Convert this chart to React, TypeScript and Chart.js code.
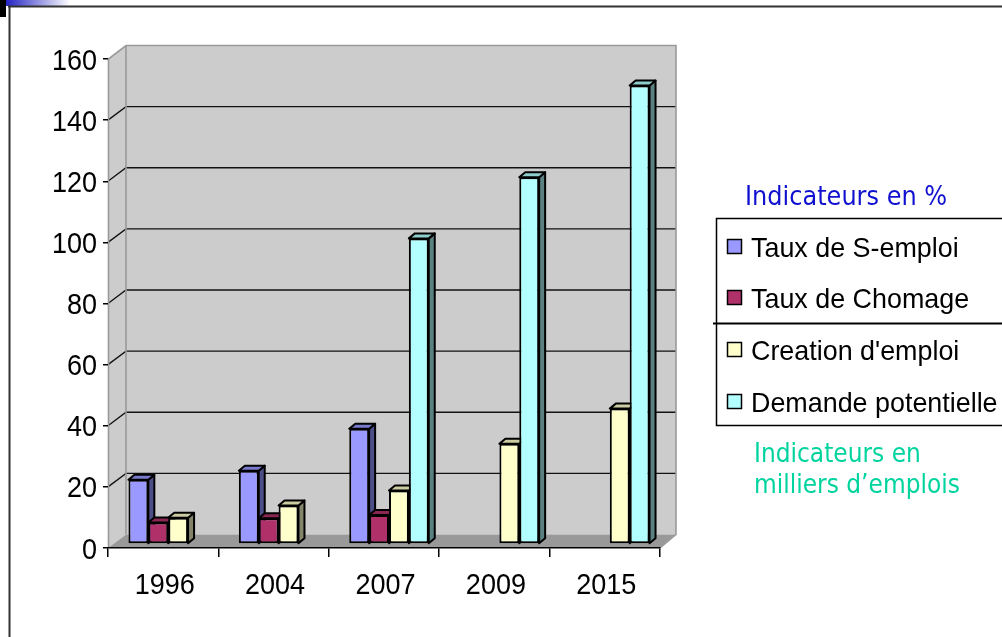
import React, { useEffect, useRef } from 'react';
import { Chart, registerables } from 'chart.js';

Chart.register(...registerables);

const categories = ['1996', '2004', '2007', '2009', '2015'];
const tauxSEmploi = [21, 24, 37.7, null, null];
const tauxChomage = [7, 8.4, 9.5, null, null];
const creationEmploi = [8.6, 12.6, 17.5, 32.8, 44.3];
const demandePotentielle = [null, null, 100, 120, 150];
const seriesLabels = ['Taux de S-emploi', 'Taux de Chomage', "Creation d'emploi", 'Demande potentielle'];
const yMin = 0;
const yMax = 160;
const yStep = 20;
const titlePct = 'Indicateurs en %';
const noteLines = ['Indicateurs en', 'milliers d\u2019emplois'];

const FRONT = ['#9999ff', '#b0306a', '#ffffcc', '#b3ffff'];
const SIDE = ['#4d4d88', '#5c1a38', '#84846a', '#5a8080'];
const TOP = ['#7a7acc', '#8a2652', '#cccca3', '#8fcccc'];

const FONT = '"Liberation Sans", Arial, sans-serif';
const WDX = 18, WDXR = 16, WDY = -13.5; // wall depth
const OX = 5, OY = -4; // bar plane offset
const BDX = 6, BDY = -5; // bar depth

function stretchedText(ctx: any, text: string, x: number, y: number, font: string, sx: number, align: string, color: string) {
  ctx.save();
  ctx.translate(x, y);
  ctx.scale(sx, 1);
  ctx.font = font;
  ctx.fillStyle = color;
  ctx.textAlign = align;
  ctx.textBaseline = 'alphabetic';
  ctx.fillText(text, 0, 0);
  ctx.restore();
}

const threeD = {
  id: 'threeD',
  beforeDraw(chart: any) {
    const ctx = chart.ctx;
    const { left, right, top, bottom } = chart.chartArea;
    const ys = chart.scales.y;
    ctx.save();
    ctx.fillStyle = '#ffffff';
    ctx.fillRect(0, 0, chart.width, chart.height);
    // frame decoration
    ctx.fillStyle = '#000';
    ctx.fillRect(0, 0, 6, 17);
    const g = ctx.createLinearGradient(6, 0, 70, 0);
    g.addColorStop(0, '#2424c4');
    g.addColorStop(1, '#ffffff');
    ctx.fillStyle = g;
    ctx.fillRect(6, 0, 64, 6);
    ctx.strokeStyle = '#333';
    ctx.lineWidth = 2;
    ctx.beginPath();
    ctx.moveTo(8, 6.5);
    ctx.lineTo(chart.width, 6.5);
    ctx.moveTo(9.5, 6);
    ctx.lineTo(9.5, chart.height);
    ctx.stroke();

    const bl = left + WDX, br = right + WDXR, bt = top + WDY, bb = bottom + WDY;
    ctx.fillStyle = '#cccccc';
    ctx.fillRect(bl, bt, br - bl, bb - bt);
    ctx.beginPath();
    ctx.moveTo(left, top);
    ctx.lineTo(bl, bt);
    ctx.lineTo(bl, bb);
    ctx.lineTo(left, bottom);
    ctx.closePath();
    ctx.fill();
    ctx.fillStyle = '#999999';
    ctx.beginPath();
    ctx.moveTo(left, bottom);
    ctx.lineTo(bl, bb);
    ctx.lineTo(br, bb);
    ctx.lineTo(right, bottom);
    ctx.closePath();
    ctx.fill();
    ctx.strokeStyle = '#111';
    ctx.lineWidth = 1.3;
    ys.ticks.forEach((t: any) => {
      if (t.value <= yMin || t.value >= yMax) return;
      const py = ys.getPixelForValue(t.value);
      ctx.beginPath();
      ctx.moveTo(left, py);
      ctx.lineTo(bl, py + WDY);
      ctx.lineTo(br, py + WDY);
      ctx.stroke();
    });
    ctx.strokeStyle = '#9a9a9a';
    ctx.lineWidth = 1.6;
    ctx.beginPath();
    ctx.moveTo(left + 0.5, bottom);
    ctx.lineTo(left + 0.5, top);
    ctx.lineTo(bl, bt);
    ctx.lineTo(br, bt);
    ctx.lineTo(br, bb);
    ctx.lineTo(right, bottom);
    ctx.moveTo(bl, bt);
    ctx.lineTo(bl, bb);
    ctx.stroke();
    ctx.restore();
  },
  beforeDatasetsDraw(chart: any) {
    const ctx = chart.ctx;
    ctx.save();
    ctx.translate(OX, OY);
    ctx.lineWidth = 2;
    ctx.lineJoin = 'round';
    ctx.strokeStyle = '#000';
    const n = chart.data.labels.length;
    for (let i = 0; i < n; i++) {
      chart.data.datasets.forEach((ds: any, d: number) => {
        const v = ds.data[i];
        if (v === null || v === undefined) return;
        const el = chart.getDatasetMeta(d).data[i];
        const { x, y, base, width } = el.getProps(['x', 'y', 'base', 'width'], true);
        const L = x - width / 2, R = x + width / 2;
        ctx.fillStyle = SIDE[d];
        ctx.beginPath();
        ctx.moveTo(R, y);
        ctx.lineTo(R + BDX, y + BDY);
        ctx.lineTo(R + BDX, base + BDY);
        ctx.lineTo(R, base);
        ctx.closePath();
        ctx.fill();
        ctx.stroke();
        ctx.fillStyle = TOP[d];
        ctx.beginPath();
        ctx.moveTo(L, y);
        ctx.lineTo(L + BDX, y + BDY);
        ctx.lineTo(R + BDX, y + BDY);
        ctx.lineTo(R, y);
        ctx.closePath();
        ctx.fill();
        ctx.stroke();
      });
    }
  },
  afterDatasetsDraw(chart: any) {
    chart.ctx.restore();
  },
  afterDraw(chart: any) {
    const ctx = chart.ctx;
    const ys = chart.scales.y;
    const xs = chart.scales.x;
    const tickFont = '30px ' + FONT;
    // axis tick labels
    ys.ticks.forEach((t: any, i: number) => {
      const py = ys.getPixelForTick(i);
      stretchedText(ctx, String(t.label), 97, py + 10.5, tickFont, 0.9, 'right', '#000');
    });
    xs.ticks.forEach((t: any, i: number) => {
      const px = xs.getPixelForTick(i);
      stretchedText(ctx, String(t.label), px + 1.5, 594, tickFont, 0.9, 'center', '#000');
    });
    // titles
    const dv = '27px "DejaVu Sans", Verdana, sans-serif';
    stretchedText(ctx, titlePct, 745, 205, dv, 0.89, 'left', '#1010d0');
    noteLines.forEach((line, k) => {
      stretchedText(ctx, line, 754, 462 + k * 31, dv, 0.865, 'left', '#00d49e');
    });
    // legend box
    ctx.save();
    ctx.strokeStyle = '#000';
    ctx.lineWidth = 1.5;
    ctx.beginPath();
    ctx.moveTo(chart.width, 218.5);
    ctx.lineTo(716.5, 218.5);
    ctx.lineTo(716.5, 425.5);
    ctx.lineTo(chart.width, 425.5);
    ctx.stroke();
    ctx.lineWidth = 2;
    ctx.beginPath();
    ctx.moveTo(713, 323.5);
    ctx.lineTo(chart.width, 323.5);
    ctx.stroke();
    const itemY = [247, 298, 350, 402];
    chart.data.datasets.forEach((ds: any, d: number) => {
      const cy = itemY[d];
      ctx.fillStyle = FRONT[d];
      ctx.fillRect(727.5, cy - 7.5, 14, 14);
      ctx.lineWidth = 1.5;
      ctx.strokeStyle = '#000';
      ctx.strokeRect(727.5, cy - 7.5, 14, 14);
      stretchedText(ctx, ds.label, 751, cy + 10, '28px ' + FONT, 0.96, 'left', '#000');
    });
    ctx.restore();
  },
};

export default function App() {
  const ref = useRef<HTMLCanvasElement>(null);
  useEffect(() => {
    if (!ref.current) return;
    const series = [tauxSEmploi, tauxChomage, creationEmploi, demandePotentielle];
    const chart = new Chart(ref.current, {
      type: 'bar',
      data: {
        labels: categories,
        datasets: series.map((data, i) => ({
          label: seriesLabels[i],
          data,
          backgroundColor: FRONT[i],
          borderColor: '#000',
          borderWidth: 2,
          borderSkipped: false,
          categoryPercentage: 0.72,
          barPercentage: 1,
        })),
      },
      options: {
        responsive: false,
        animation: false,
        devicePixelRatio: 1,
        layout: { padding: { left: 0, top: 59, right: 342, bottom: 0 } },
        plugins: { legend: { display: false }, tooltip: { enabled: false } },
        scales: {
          x: {
            grid: { offset: true, drawOnChartArea: false, drawTicks: true, tickLength: 9, color: '#000', lineWidth: 1.5 },
            border: { display: true, color: '#000', width: 1.5 },
            ticks: { display: false, maxRotation: 0 },
            afterFit: (s: any) => { s.height = 89; },
          },
          y: {
            min: yMin,
            max: yMax,
            ticks: { display: false, stepSize: yStep },
            grid: { drawOnChartArea: false, drawTicks: true, tickLength: 5, color: '#000', lineWidth: 1.5 },
            border: { display: false },
            afterFit: (s: any) => { s.width = 108; },
          },
        },
      },
      plugins: [threeD],
    } as any);
    return () => chart.destroy();
  }, []);
  return (
    <canvas
      ref={ref}
      width={1002}
      height={637}
      style={{ position: 'absolute', left: 0, top: 0, width: 1002, height: 637 }}
    />
  );
}
